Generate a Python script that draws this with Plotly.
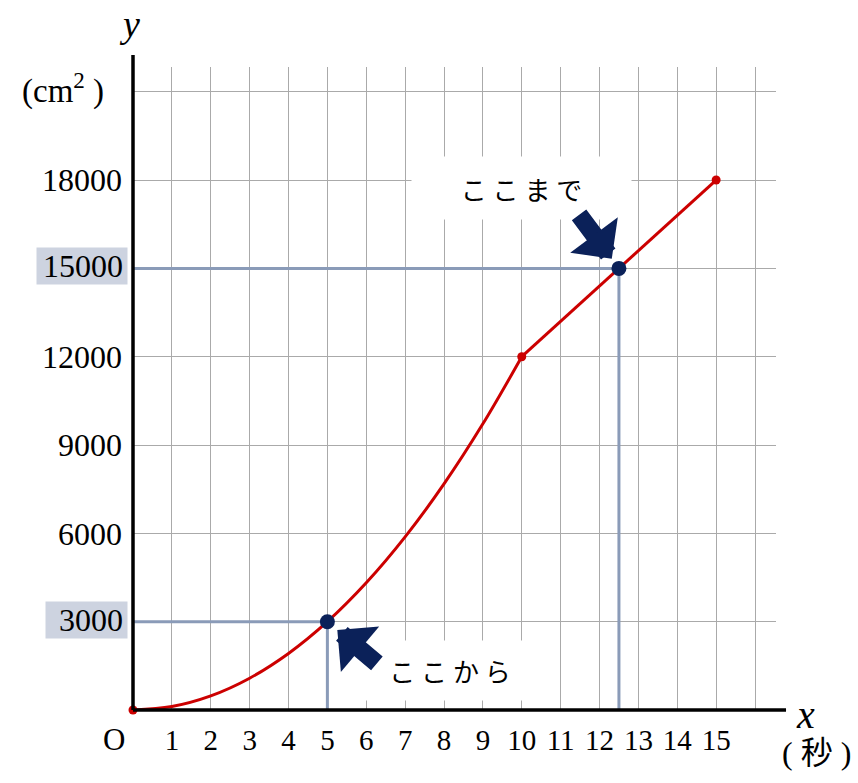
import plotly.graph_objects as go

# ---- data ----
x_curve = [0, 1, 2, 3, 4, 5, 6, 7, 8, 9, 10]
y_curve = [0, 120, 480, 1080, 1920, 3000, 4320, 5880, 7680, 9720, 12000]
x_lin = [10, 15]
y_lin = [12000, 18000]
x_small = [0, 10, 15]
y_small = [0, 12000, 18000]
x_key = [5, 12.5]
y_key = [3000, 15000]
x_tickvals = list(range(0, 17))
x_ticktext = [""] + [str(i) for i in range(1, 16)] + [""]
y_tickvals = [0, 3000, 6000, 9000, 12000, 15000, 18000, 21000]
highlight = [3000, 15000]
y_ticktext = ["" if (v == 0 or v == 21000 or v in highlight) else str(v) for v in y_tickvals]
label_from = "こ こ か ら"
label_to = "こ こ ま で"

RED = "#cc0000"
NAVY = "#0b2159"
GUIDE = "#8a9bb8"
HL = "#cdd3e0"
SERIF = "Liberation Serif, Times New Roman, serif"
JP = "Noto Sans CJK JP, sans-serif"

fig = go.Figure()

# guide lines
for xk, yk in zip(x_key, y_key):
    fig.add_trace(go.Scatter(x=[0, xk, xk], y=[yk, yk, 0], mode="lines",
                             line=dict(color=GUIDE, width=3), hoverinfo="skip"))

fig.add_trace(go.Scatter(x=x_curve, y=y_curve, mode="lines",
                         line=dict(color=RED, width=3, shape="spline"), hoverinfo="skip"))
fig.add_trace(go.Scatter(x=x_lin, y=y_lin, mode="lines",
                         line=dict(color=RED, width=3), hoverinfo="skip"))
fig.add_trace(go.Scatter(x=x_small, y=y_small, mode="markers",
                         marker=dict(color=RED, size=9), hoverinfo="skip", cliponaxis=False))
fig.add_trace(go.Scatter(x=x_key, y=y_key, mode="markers",
                         marker=dict(color=NAVY, size=15), hoverinfo="skip"))

annotations = []
# highlighted y tick labels
for v in highlight:
    annotations.append(dict(xref="paper", yref="y", x=0, y=v, text=str(v), showarrow=False,
                            xanchor="right", yanchor="middle", xshift=-5, yshift=2,
                            font=dict(family=SERIF, size=32, color="black"),
                            bgcolor=HL, borderpad=4, height=28,
                            width=82 if v >= 10000 else 73, align="right"))
# text boxes
annotations.append(dict(xref="x", yref="y", x=10.0, y=17740, text=label_to, showarrow=False,
                        font=dict(family=JP, size=26, color="black"),
                        bgcolor="white", width=219, height=62, borderpad=0))
annotations.append(dict(xref="x", yref="y", x=8.15, y=1330, text=label_from, showarrow=False,
                        font=dict(family=JP, size=26, color="black"),
                        bgcolor="white", width=218, height=59, borderpad=0))
# arrows
annotations.append(dict(xref="x", yref="y", x=x_key[1], y=y_key[1], text="", showarrow=True,
                        ax=-41, ay=-55, arrowcolor=NAVY, arrowwidth=18, arrowhead=1,
                        arrowsize=0.55, standoff=12, font=dict(size=1)))
annotations.append(dict(xref="x", yref="y", x=x_key[0], y=y_key[0], text="", showarrow=True,
                        ax=51, ay=43, arrowcolor=NAVY, arrowwidth=18, arrowhead=1,
                        arrowsize=0.55, standoff=13, font=dict(size=1)))
# axis labels
annotations.append(dict(xref="paper", yref="paper", x=0, y=0, text="O", showarrow=False,
                        xanchor="center", yanchor="middle", xshift=-19, yshift=-29,
                        font=dict(family=SERIF, size=31, color="black")))
annotations.append(dict(xref="paper", yref="paper", x=0, y=1, text="<i>y</i>", showarrow=False,
                        xanchor="center", yanchor="middle", xshift=-4, yshift=43,
                        font=dict(family=SERIF, size=38, color="black")))
annotations.append(dict(xref="paper", yref="paper", x=0, y=1, text="(cm<sup>2</sup> )",
                        showarrow=False, xanchor="center", yanchor="middle", xshift=-70, yshift=-21,
                        font=dict(family=SERIF, size=33, color="black")))
annotations.append(dict(xref="paper", yref="paper", x=1, y=0, text="<i>x</i>", showarrow=False,
                        xanchor="center", yanchor="middle", xshift=29, yshift=-4,
                        font=dict(family=SERIF, size=40, color="black")))
annotations.append(dict(xref="paper", yref="paper", x=1, y=0, text="( 秒 )", showarrow=False,
                        xanchor="center", yanchor="middle", xshift=40, yshift=-43,
                        font=dict(family=SERIF + ", " + JP, size=32, color="black")))

shapes = [
    dict(type="line", xref="paper", yref="paper", x0=0, y0=0, x1=1.0156, y1=0,
         line=dict(color="black", width=3.5)),
    dict(type="line", xref="paper", yref="paper", x0=0, y0=0, x1=0, y1=1.0187,
         line=dict(color="black", width=3.5)),
]

fig.update_layout(
    width=858, height=783,
    margin=dict(l=133, r=82, t=67, b=73),
    paper_bgcolor="white", plot_bgcolor="white",
    showlegend=False, hovermode=False,
    annotations=annotations, shapes=shapes,
    xaxis=dict(range=[0, 16.54], tickvals=x_tickvals, ticktext=x_ticktext,
               showgrid=True, gridcolor="#aaaaaa", gridwidth=1, zeroline=False,
               showline=False, ticks="", ticklabelstandoff=10,
               tickfont=dict(family=SERIF, size=29, color="black")),
    yaxis=dict(range=[0, 21840], tickvals=y_tickvals, ticktext=y_ticktext,
               showgrid=True, gridcolor="#aaaaaa", gridwidth=1, zeroline=False,
               showline=False, ticks="", ticklabelstandoff=10,
               tickfont=dict(family=SERIF, size=32, color="black")),
)

fig.write_html("out.html", config={"displayModeBar": False},
               post_script="document.body.style.margin='0';document.body.style.overflow='hidden';")
